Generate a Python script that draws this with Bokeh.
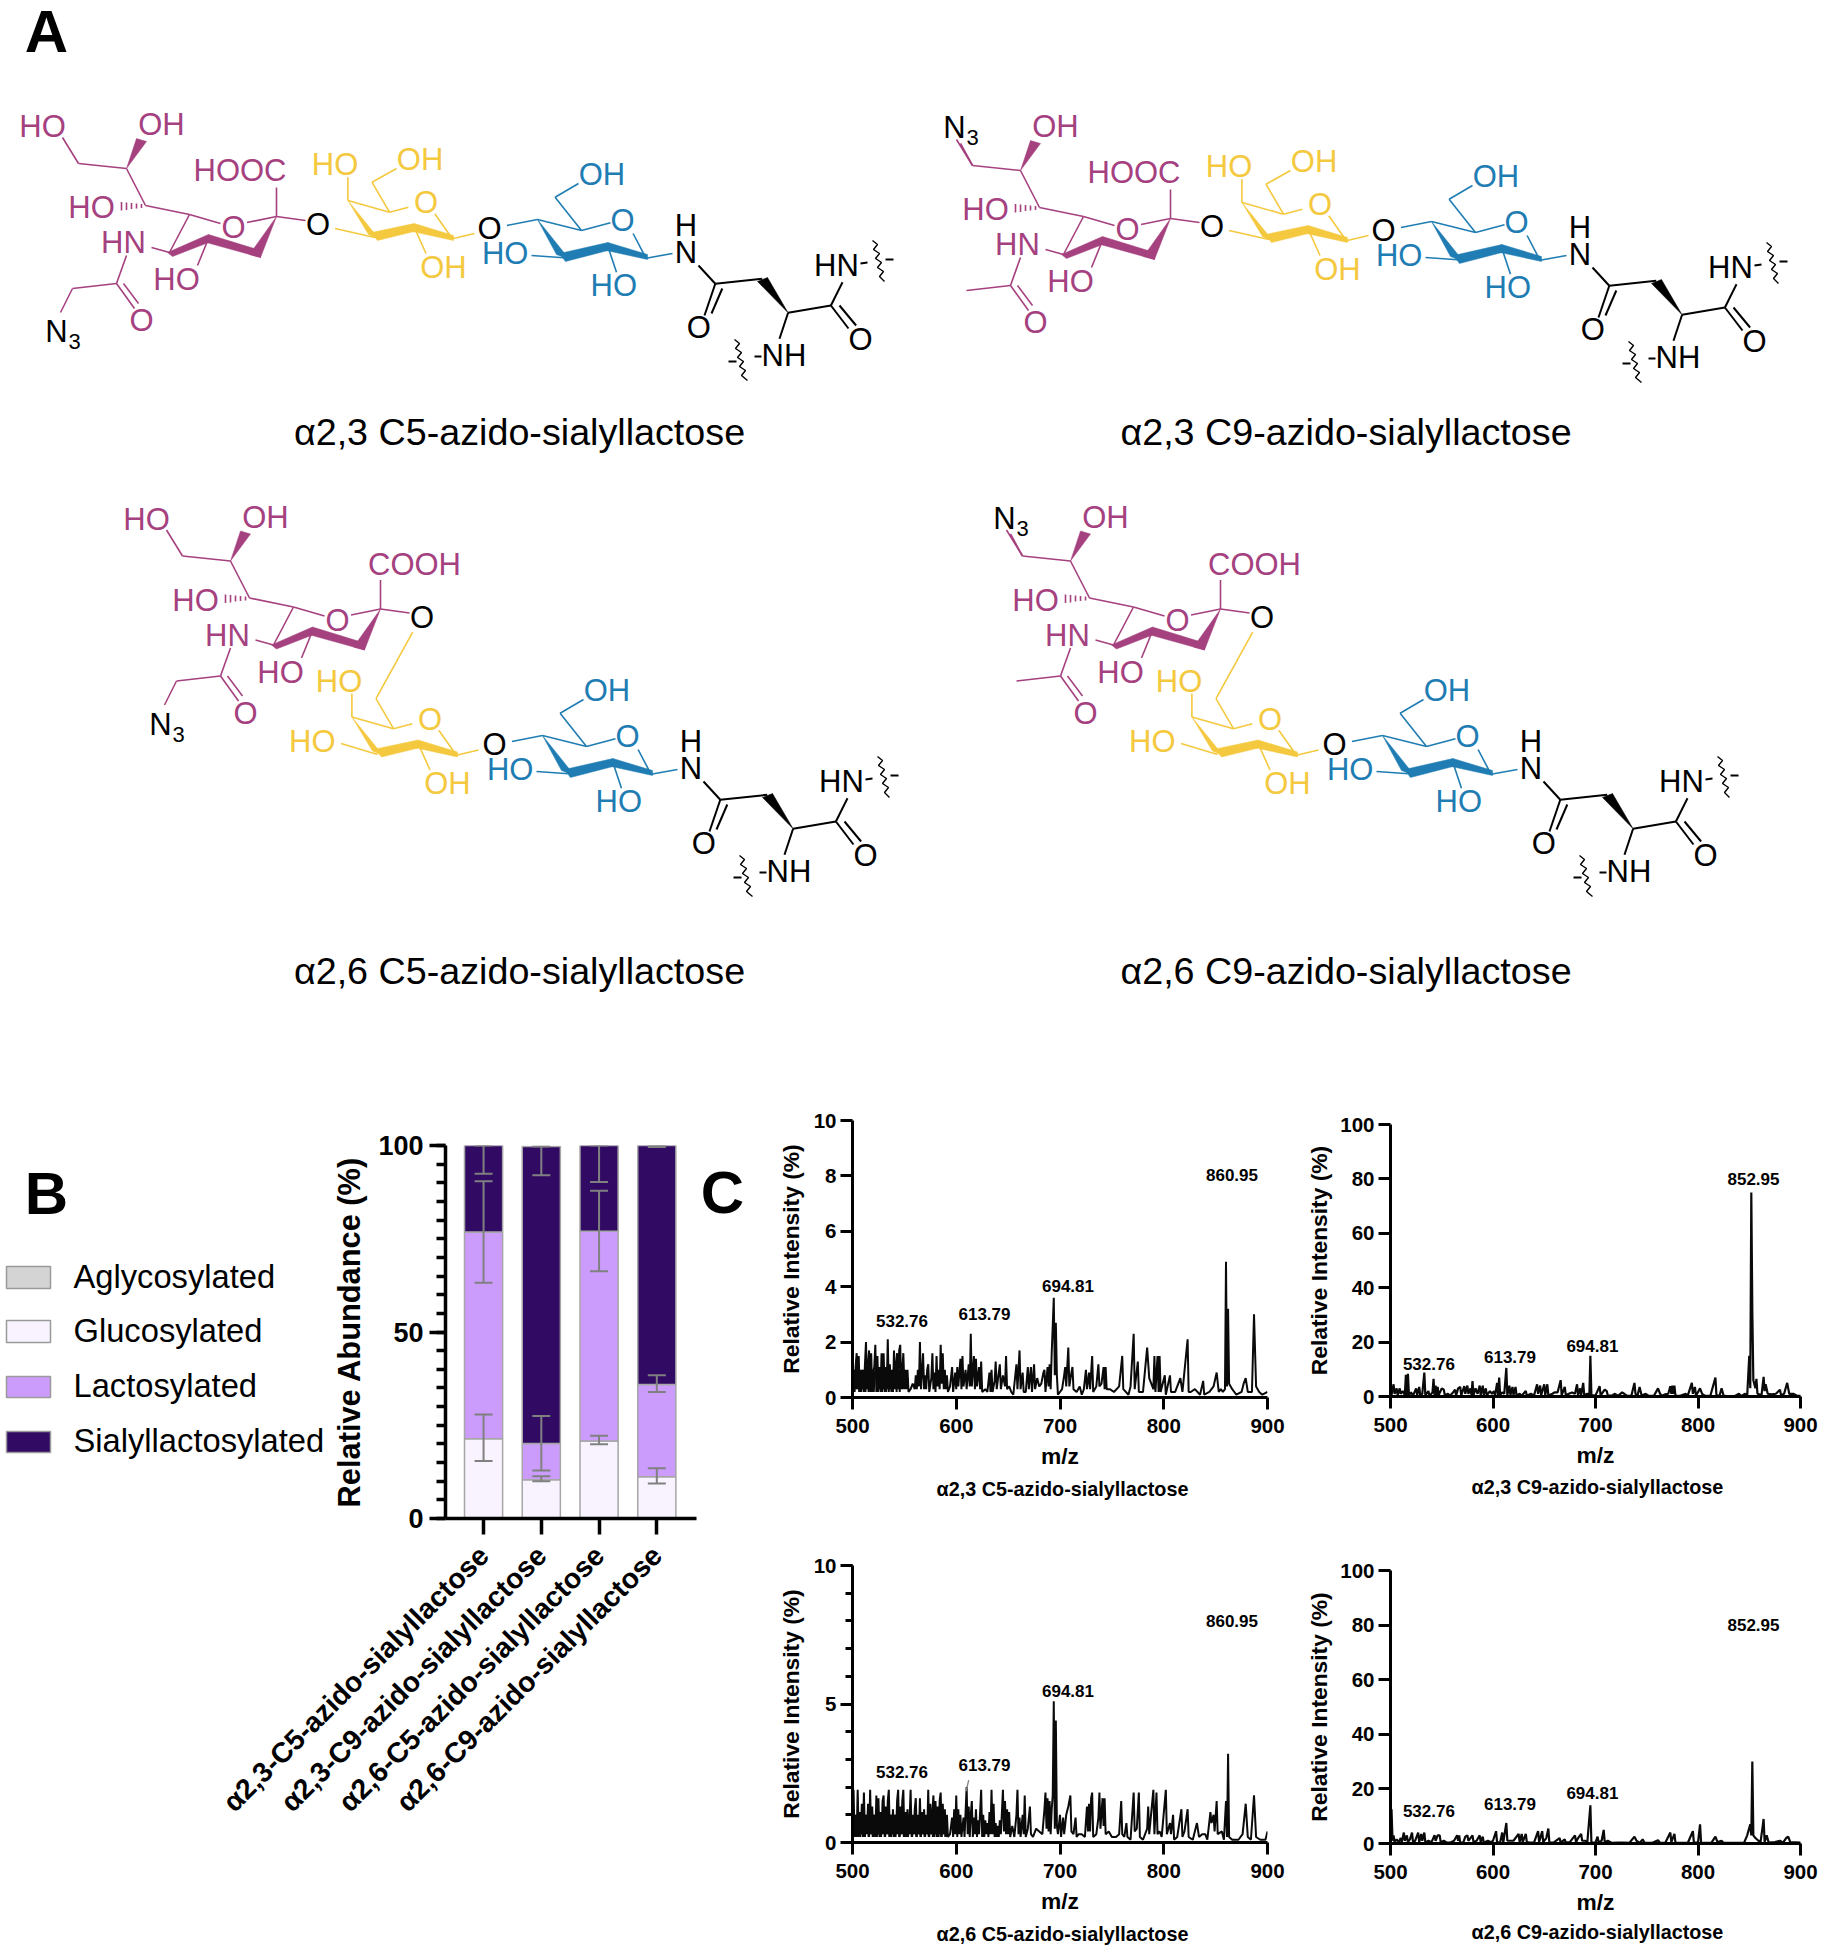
from bokeh.plotting import figure
from bokeh.layouts import column, row
from bokeh.embed import file_html
from bokeh.resources import INLINE
from bokeh.models import (Range1d, FixedTicker, Label, Whisker, TeeHead, ColumnDataSource, GridBox, Spacer)
from bokeh.core.properties import value
import math

FONT = "Liberation Sans"

# ---------- panel B data ----------
categories = ["α2,3-C5-azido-sialyllactose", "α2,3-C9-azido-sialyllactose",
              "α2,6-C5-azido-sialyllactose", "α2,6-C9-azido-sialyllactose"]
aglycosylated = [0, 0, 0, 0]
glucosylated = [21.4, 10.4, 20.8, 11.2]
lactosylated = [55.4, 9.7, 56.2, 24.7]
sialyllactosylated = [23.2, 79.6, 23.0, 64.1]
err_upper = {"gluc": [27.9, 11.3, 22.2, 13.5], "lac": [90.4, 27.5, 87.9, 38.4], "sial": [100, 99.7, 100, 100]}
err_lower = {"gluc": [15.4, 10.0, 19.9, 9.4], "lac": [63.2, 12.9, 66.3, 33.9], "sial": [92.4, 92.0, 90.2, 99.6]}
legend_names = ["Aglycosylated", "Glucosylated", "Lactosylated", "Sialyllactosylated"]
legend_colors = ["#D4D4D4", "#F8F3FE", "#CB9CFB", "#310A63"]

# ---------- panel C data (m/z, relative intensity) ----------
c1 = [(500,.2),(501,1.0),(502,.2),(503,1.1),(504,1.6),(505,.3),(506,1.5),(507,.2),(508,.9),(509,.3),(510,1.0),(511,.2),
(512,1.2),(513,2.0),(514,.3),(515,1.2),(516,1.7),(517,.2),(518,1.6),(519,.3),(520,.9),(521,1.1),(522,1.9),(523,.2),
(524,1.5),(525,.3),(526,1.1),(527,.2),(528,1.6),(529,.3),(530,1.6),(531,.2),(532,1.1),(533,.3),(534,2.1),(535,.2),
(536,1.2),(537,.3),(538,.9),(539,.2),(540,1.7),(541,.4),(542,1.2),(543,1.6),(544,.3),(545,1.7),(546,1.9),(547,.3),
(548,1.0),(549,1.6),(550,.4),(551,1.0),(552,.4),(553,1.0),(554,.2),(556,.3),(558,.5),(560,.3),(561,.8),(562,.3),
(563,1.0),(564,.4),(565,2.0),(566,.3),(567,.9),(568,1.6),(569,.3),(570,.8),(571,.3),(572,1.0),(573,1.2),(574,.2),
(576,.7),(577,1.6),(578,.3),(579,.9),(580,.2),(581,1.5),(582,.4),(583,1.0),(584,.3),(585,1.9),(586,.5),(587,1.6),
(588,.3),(589,1.0),(590,.3),(591,.8),(592,.2),(594,.4),(596,1.1),(597,.2),(599,.9),(600,.3),(601,1.1),(602,.4),
(604,1.4),(605,.3),(606,1.5),(607,.4),(609,1.0),(610,.3),(612,1.2),(613,.4),(614,2.3),(615,.4),(617,1.5),(618,.3),
(619,1.4),(620,.4),(622,1.1),(623,.3),(624,1.3),(625,.2),(628,.3),(630,.2),(632,.9),(633,.2),(634,1.0),(635,.2),
(637,.6),(638,1.3),(639,.3),(642,1.2),(643,.3),(645,.8),(647,.4),(648,1.5),(649,.3),(651,.4),(653,.2),(655,.1),
(658,1.2),(659,.3),(661,1.7),(662,.3),(664,.9),(665,.2),(667,.2),(669,1.1),(670,.3),(672,1.1),(673,.2),(675,1.2),
(676,.3),(678,.7),(680,.4),(682,.5),(684,.9),(685,1.0),(686,.2),(688,1.1),(689,.4),(690,1.2),(691,.3),(692,1.6),
(694,3.6),(695,.8),(696,2.7),(697,.8),(698,.1),(702,.3),(704,.8),(705,1.1),(706,.4),(708,1.8),(709,.4),(711,.9),
(712,1.1),(713,.3),(716,.2),(719,.4),(721,.1),(723,.3),(725,1.0),(726,.3),(728,.9),(729,.3),(731,1.5),(732,.2),
(735,.4),(737,1.2),(738,.4),(740,.5),(742,1.1),(743,.3),(744,1.1),(745,.3),(748,.3),(752,.2),(757,.4),(760,1.5),
(761,.3),(766,.1),(768,.4),(771,2.3),(772,.3),(775,1.3),(776,.2),(780,.2),(784,1.8),(786,.7),(790,.3),(791,1.5),
(792,.2),(794,1.5),(795,.2),(796,1.5),(797,.2),(801,.8),(802,.1),(806,.8),(807,.2),(811,.2),(816,.7),(818,.2),
(823,2.1),(824,.2),(826,.2),(830,.3),(835,.1),(838,.6),(839,.1),(844,.2),(848,.4),(851,.9),(853,.2),(855,.3),
(857,.2),(859,.3),(860,4.9),(861,.4),(862,3.2),(863,.5),(866,.3),(870,.1),(875,.2),(877,.5),(879,.7),(881,.2),
(885,.2),(887,3.0),(889,.4),(892,.2),(895,.1),(900,.2)]
# unresolved peaks between the traced ones, low m/z end
c1_dense = [(500.5,.9),(501.5,.2),(502.5,1.0),(503.5,.3),(504.5,.9),(505.5,1.0),(506.5,.2),(507.5,1.0),(508.5,.2),(509.5,1.0),
(510.5,.3),(511.5,.9),(512.5,.2),(513.5,1.0),(514.5,.9),(515.5,.2),(516.5,1.0),(517.5,.9),(518.5,.2),(519.5,1.0),(520.5,.2),
(521.5,.9),(522.5,1.0),(523.5,.9),(524.5,.2),(525.5,1.0),(526.5,.3),(527.5,1.0),(528.5,.2),(529.5,.9),(530.5,.3),(531.5,1.0),
(532.5,.2),(533.5,1.0),(534.5,.9),(535.5,.3),(536.5,1.0),(537.5,.2),(538.5,1.0),(539.5,.9),(540.5,.3),(541.5,1.0),(542.5,.2),
(543.5,.9),(544.5,1.0),(545.5,.2),(546.5,1.0),(547.5,.9),(548.5,.3),(549.5,1.0),(550.5,.3),(551.5,.9),(552.5,.3),(553.5,.7)]

c2 = [(500,5),(501,.5),(503,4.5),(504,1),(506,3),(507,.5),(509,3),(510,1),(512,2),(514,.5),(515,8),(516,.5),(517,8.3),
(518,.5),(520,1.5),(522,.3),(525,3),(526,.5),(528,3.5),(529,.5),(531,1),(533,8.8),(534,.4),(537,2),(538,.3),(541,1.5),
(542,6.5),(543,.5),(544,4),(545,.6),(546,3.5),(547,.5),(550,3),(552,2.5),(553,.5),(556,1),(558,.3),(561,1.5),(563,2.5),
(564,.3),(566,3),(568,3.5),(569,.4),(572,3.8),(573,1),(575,4),(576,1),(578,3),(579,.6),(580,5.7),(581,.5),(583,3),
(585,1),(587,4),(588,.5),(590,4),(591,.5),(593,3),(594,.4),(597,2),(599,1),(601,2),(602,.3),(604,5),(605,.3),(606,7),
(607,.5),(609,1.5),(611,1),(613,10.5),(614,.5),(616,4),(617,.5),(619,3.5),(620,.5),(622,3.5),(623,.3),(626,1),(628,.3),
(632,2),(633,.3),(637,1),(640,.3),(643,4.5),(644,1),(646,4),(647,.5),(650,4.5),(651,.5),(653,4.5),(654,.4),(658,1),
(660,1.5),(663,1.5),(666,6),(667,.5),(670,3.5),(671,.5),(674,1),(677,1.5),(680,1),(682,4.5),(683,.5),(685,3),(686,.5),
(688,5),(689,.5),(692,1),(694,.5),(695,15),(696,.5),(700,.3),(704,3.8),(705,.4),(709,2.5),(711,2),(712,.3),(716,.3),
(719,1),(722,.2),(726,1.5),(728,1),(731,.2),(735,.3),(738,5),(739,1),(741,.4),(743,3.5),(745,.4),(749,1),(752,.2),
(757,.3),(761,3),(763,1),(765,.3),(768,.8),(771,1),(773,3.8),(774,1),(775,4),(776,1),(777,4),(778,.3),(782,.2),(788,1),
(790,.3),(794,5),(795,1),(797,3.5),(798,.3),(802,3),(804,1),(807,.2),(812,.2),(817,7),(818,.3),(821,.3),(823,3),(825,.3),
(830,.1),(836,.2),(840,1),(842,.1),(846,1),(848,.2),(850,15),(851,3),(852,75),(853,31),(854,6),(856,3),(857,6.5),(858,1),
(862,.5),(864,7.2),(865,2),(866,4.5),(868,1),(872,.8),(876,1),(880,2.5),(881,.5),(884,1),(887,5),(889,1),(893,1),(897,.2),(900,.2)]

c3 = [(500,.3),(501,1.9),(502,.2),(503,1.0),(504,.2),(505,1.9),(506,.2),(507,1.1),(508,.3),(509,1.4),(510,.2),(511,1.8),
(512,.2),(513,1.0),(514,.4),(515,1.4),(516,.2),(517,1.9),(518,.3),(519,1.3),(520,.2),(521,1.0),(522,.2),(523,1.7),
(524,.3),(525,1.6),(526,.2),(527,1.1),(528,.3),(529,1.5),(530,1.7),(531,.2),(532,1.3),(533,.3),(534,1.5),(535,1.9),
(536,.2),(537,1.0),(538,.3),(539,1.2),(540,.2),(541,1.0),(542,.3),(543,1.5),(544,1.9),(545,.2),(546,1.3),(547,.3),
(548,1.5),(549,1.9),(550,.2),(551,1.1),(552,.2),(553,1.2),(554,.3),(555,.8),(556,1.9),(557,.2),(558,1.0),(559,.3),
(560,1.2),(561,1.6),(562,.2),(563,1.0),(564,.3),(565,1.6),(566,.2),(567,1.1),(568,.3),(569,1.2),(570,.2),(571,1.0),
(572,.3),(573,1.9),(574,.2),(575,1.4),(576,.3),(577,1.1),(578,1.7),(579,.2),(580,1.5),(581,.3),(582,1.3),(583,.2),
(584,1.5),(585,1.8),(586,.2),(587,1.4),(588,.3),(589,1.2),(590,.2),(591,1.0),(592,.2),(594,.3),(596,.9),(597,.2),
(598,1.2),(599,.3),(600,1.7),(601,.2),(602,1.2),(603,.3),(604,1.0),(605,.2),(607,.9),(608,.2),(610,2.0),(611,.3),
(612,1.3),(613,.2),(614,1.0),(615,1.5),(616,.2),(617,.9),(618,.3),(619,1.2),(620,.2),(621,.8),(622,.3),(624,1.9),
(625,.2),(626,1.0),(627,.2),(628,.8),(629,.3),(630,.7),(631,.2),(632,1.1),(633,.3),(634,1.9),(635,.3),(636,1.4),
(637,.2),(638,.7),(639,.2),(640,.6),(641,.2),(642,.8),(643,.3),(645,1.9),(646,.4),(647,1.5),(648,.3),(649,1.2),
(650,.3),(651,1.1),(652,.2),(654,.6),(656,.2),(658,1.0),(659,1.9),(660,.3),(661,.9),(662,.2),(664,1.0),(665,.3),
(666,1.7),(667,.2),(669,.5),(671,1.3),(672,.3),(674,.2),(677,.5),(680,.4),(683,.3),(685,1.2),(686,1.8),(687,.5),
(688,1.6),(689,.4),(690,1.5),(691,.3),(692,1.2),(693,1.7),(694,5.1),(695,.5),(696,4.4),(697,.6),(698,.3),(700,1.0),
(701,.2),(703,.9),(704,.3),(706,1.0),(708,1.3),(710,1.7),(711,.4),(713,.3),(715,.9),(716,.2),(718,.3),(721,.3),(724,.2),
(726,1.3),(727,.4),(728,1.4),(729,.4),(730,1.6),(731,1.8),(732,.2),(735,.3),(737,.9),(738,1.8),(739,.5),(741,1.6),
(742,.6),(743,1.6),(744,.3),(747,.4),(750,.2),(754,.2),(757,.3),(759,1.5),(760,.3),(762,.2),(764,.7),(765,.2),(768,.1),
(771,1.8),(772,.4),(774,.5),(776,1.8),(777,.2),(780,.1),(784,.5),(785,1.3),(786,.3),(790,1.9),(791,.3),(793,1.8),(794,.3),
(796,.4),(798,.2),(802,1.9),(803,.3),(806,.7),(807,.3),(809,1.0),(810,.1),(813,.2),(817,1.2),(818,.2),(820,.4),(823,1.2),
(824,.2),(828,.1),(832,.7),(834,.2),(837,.3),(840,.3),(842,.1),(845,1.1),(846,.7),(848,1.0),(849,.4),(851,1.5),(852,.3),
(856,.4),(858,.1),(860,1.5),(861,.2),(862,3.2),(863,.2),(866,.1),(872,.1),(876,.3),(879,1.4),(881,.2),(884,.1),(887,1.7),
(889,.2),(893,.1),(898,.1),(900,.4)]
c3_dense = [(500.5,1.0),(501.5,.2),(502.5,1.0),(503.5,.2),(504.5,1.0),(505.5,.3),(506.5,1.0),(507.5,.2),(508.5,1.0),(509.5,.3),
(510.5,1.0),(511.5,.2),(512.5,1.0),(513.5,.3),(514.5,1.0),(515.5,.2),(516.5,1.0),(517.5,.3),(518.5,1.0),(519.5,.2),(520.5,1.0),
(521.5,.3),(522.5,1.0),(523.5,.2),(524.5,1.0),(525.5,.3),(526.5,1.0),(527.5,.2),(528.5,1.0),(529.5,.3),(530.5,1.0),(531.5,.2),
(532.5,1.0),(533.5,.3),(534.5,1.0),(535.5,.2),(536.5,1.0),(537.5,.2),(538.5,1.0),(539.5,.3),(540.5,1.0),(541.5,.2),(542.5,1.0),
(543.5,.3),(544.5,1.0),(545.5,.2),(546.5,1.0),(547.5,.3),(548.5,1.0),(549.5,.2),(550.5,.8),(551.5,.3),(552.5,.6),(553.5,.2),
(554.5,.9),(555.5,.3),(556.5,.8),(557.5,.2),(558.5,.9),(559.5,.3),(560.5,.8),(561.5,.2),(562.5,.9),(563.5,.3),(564.5,.8),(565.5,.2),
(566.5,.9),(567.5,.3),(568.5,.8),(569.5,.2),(570.5,.9),(571.5,.3),(572.5,.8),(573.5,.2),(574.5,.9),(575.5,.3),(576.5,.9),(577.5,.2),
(578.5,1.0),(579.5,.3),(580.5,1.0),(581.5,.2),(582.5,.9),(583.5,.3),(584.5,1.0),(585.5,.2),(586.5,1.0),(587.5,.3),(588.5,.9),(589.5,.2)]

c4 = [(500,1),(501,12.5),(502,1),(503,3),(504,.5),(506,1.5),(508,.5),(510,2),(511,.5),(513,4),(514,1),(516,3),(517,.5),
(519,1.5),(521,4),(522,.5),(524,1),(527,4),(528,.5),(530,3.5),(531,1),(533,4),(534,.4),(537,1),(540,.5),(543,3),(544,1),
(546,3),(548,3),(549,.5),(552,1),(555,.3),(558,.3),(562,1),(565,3),(566,1),(567,3),(568,.3),(571,.3),(573,2.5),(575,3),
(576,1),(578,2),(580,3),(581,.5),(584,1),(587,3),(588,.5),(590,2.5),(591,.3),(595,1),(598,.5),(600,1),(603,4.5),(604,.3),
(607,.5),(609,4),(610,.3),(613,7.5),(614,1),(617,1),(620,1),(625,3.5),(626,.5),(628,3.5),(629,.5),(632,3.5),(633,.5),(636,.3),
(640,.3),(644,4.5),(645,.5),(648,4.5),(649,.5),(652,2),(654,5.5),(655,.3),(659,.3),(665,2),(666,.3),(670,1.5),(671,.3),
(675,.5),(680,3),(681,.5),(683,2),(686,3.5),(687,1),(690,1),(692,.3),(695,14),(696,.3),(700,.3),(702,2.5),(703,.5),(706,1),
(708,5),(709,.5),(712,1),(716,.2),(722,.3),(728,.3),(733,.2),(738,2.5),(740,1),(743,.2),(746,1.5),(748,.2),(755,.2),(761,1.2),
(763,.2),(768,.2),(773,4),(774,.5),(777,3.5),(778,.3),(785,.2),(790,.2),(795,4.5),(796,.3),(800,.3),(802,7),(803,.3),(808,.2),
(813,.2),(817,2.5),(819,.5),(823,1),(825,.2),(835,.2),(845,.3),(848,3),(851,7),(852,3),(853,30),(854,3),(856,2),(859,1),
(861,.5),(863,6),(864,9),(865,.5),(867,3),(869,.3),(875,.5),(880,1),(883,.3),(886,2),(888,2.5),(890,.5),(900,.3)]

peak_labels_c5 = ["532.76", "613.79", "694.81", "860.95"]
peak_labels_c9 = ["532.76", "613.79", "694.81", "852.95"]
spectrum_captions = ["α2,3 C5-azido-sialyllactose", "α2,3 C9-azido-sialyllactose",
                     "α2,6 C5-azido-sialyllactose", "α2,6 C9-azido-sialyllactose"]

# ---------- panel A drawing (pixel space of the page) ----------
PURPLE, YELLOW, BLUE, BLACK = "#A5417F", "#F4C93F", "#1F7DB3", "#000000"
CHEM = 31

sia_bonds = [((62,137),(78,163)),((78,163),(126,168)),((126,168),(145,205)),((145,205),(189,214)),((189,214),(220,223)),
             ((246.5,222),(276,216)),((276,216),(305,220)),((276,216),(276,187)),((189,214),(169,252)),((169,252),(151,247)),
             ((208,238),(197,265)),((126,255),(116,283)),((116,283),(72,288)),((116,283),(134,308)),((123,283),(138,303)),
             ((141,203.5),(141,207.5)),((136,203),(136,208)),((131,202.5),(131,208.5)),((126,202),(126,209.5)),((121,201.5),(121,210))]
sia_wedges = [[(126,168),(136,138),(146,141)],[(167,252),(208,234),(208,242),(172,256)],
              [(208,234),(260,250),(260,257),(206,242)],[(249,254),(260,257),(276,216)]]
sia_labels = [("OH",161,124),("HO",91,207),("O",233,227),("HN",123,242),("HO",176,279),("O",141,320)]

gal_bonds = [((347.4,200),(389,211.7)),((389,211.7),(407.9,206.7)),((434.3,213.3),(451.9,238.3)),((347.4,200),(347.4,176.7)),
             ((389,211.7),(371.5,181.7)),((413.7,226.7),(425.5,253)),((451.9,238.3),(474,233))]
gal_wedges = [[(347.4,200),(368,234),(379,239)],[(371,232),(413.7,223),(413.7,231),(377,240)],[(413.7,223),(453,235),(453,240),(412,231)]]
gal_labels = [("HO",334.5,164),("O",425.5,202.3),("OH",443,266.7)]

glc_bonds = [((506.5,225),(537,219)),((537,219),(581,230)),((581,230),(610,222.3)),((632.6,233),(645.5,257.7)),((581,230),(554.6,196.7)),
             ((554.6,196.7),(578,183)),((563.4,257.3),(531,255)),((607.4,246),(616,271.7)),((645.5,257.7),(672,253))]
glc_wedges = [[(537,219),(556,254),(569,259)],[(559,253),(607.4,242),(607.4,250),(565,261)],[(607.4,242),(647,254),(647,259),(606,250)]]
glc_labels = [("O",622,220),("OH",601.5,174),("HO",504.7,253),("HO",613.3,285)]

asn_bonds = [((698,265),(714.8,283.3)),((714.8,283.3),(761.7,278.3)),((714.8,283.3),(704,315)),((721.8,288),(711,313)),
             ((787.6,312.3),(830.4,305)),((830.4,305),(842,281.7)),((830.4,305),(848,328)),((839,305),(855.6,325)),((787.6,312.3),(779,338.3)),
             ((860,263),(867,262)),((885,259),(893,259)),((728,361),(736,361)),((754,356),(761,356))]
asn_wedges = [[(757,281),(767,277),(787.6,312.3)]]
asn_labels = [("H",685.4,225),("N",685.4,252.3),("O",698.4,327.3),("HN",836,265),("O",860,339.3),("NH",783.4,355),("O",489,228.3)]
wavy_a = [(872,240),(877,244),(873,249),(879,253),(875,258),(881,262),(877,267),(883,271),(879,276),(884,281)]
wavy_b = [(734,339),(739,343),(735,348),(741,352),(737,357),(743,361),(739,366),(745,370),(741,375),(747,380)]

structure_titles = ["α2,3 C5-azido-sialyllactose", "α2,3 C9-azido-sialyllactose",
                    "α2,6 C5-azido-sialyllactose", "α2,6 C9-azido-sialyllactose"]


def txt(p, s, x, y, size, color="#000000", bold=False, align="center"):
    p.text([x], [y], text=[s], text_font=value(FONT), text_font_size=f"{size}px", text_color=color,
           text_align=align, text_baseline="middle", text_font_style="bold" if bold else "normal")


def unit(p, bonds, wedges, labels, color, dx, dy, width=1.6):
    p.multi_line([[a[0]+dx, b[0]+dx] for a, b in bonds], [[a[1]+dy, b[1]+dy] for a, b in bonds],
                 line_color=color, line_width=width)
    p.patches([[q[0]+dx for q in w] for w in wedges], [[q[1]+dy for q in w] for w in wedges],
              fill_color=color, line_color=color, line_width=0.5)
    for s, x, y in labels:
        txt(p, s, x+dx, y+dy, CHEM, color)


def structure(p, ox, oy, c9, a26):
    if a26:
        sx, sy, yx, yy, bx, by = ox+104, oy+392.5, ox+4, oy+516.5, ox+5, oy+516
    else:
        sx, sy, yx, yy, bx, by = ox, oy, ox, oy, ox, oy
    extra = [((78,163),(66,141))] if c9 else [((72,288),(60,312))]
    unit(p, sia_bonds+extra, sia_wedges, sia_labels, PURPLE, sx, sy)
    if not c9:
        txt(p, "HO", 42+sx, 126+sy, CHEM, PURPLE)
        txt(p, "N", 56+sx, 331+sy, CHEM)
        txt(p, "3", 74+sx, 341+sy, 22)
    else:
        txt(p, "N", 60+sx, 125+sy, CHEM)
        txt(p, "3", 78+sx, 135+sy, 22)
    if a26:
        txt(p, "COOH", 310+sx, 171+sy, CHEM, PURPLE)
    else:
        txt(p, "HOOC", 239.5+sx, 170+sy, CHEM, PURPLE)
    txt(p, "O", 317.5+sx, 224+sy, CHEM)
    if a26:
        gb = gal_bonds+[((373,237.5),(336.6,226.5)),((371.5,181.7),(408.2,115.2))]
        gl = gal_labels+[("HO",307.8,224.2)]
    else:
        gb = gal_bonds+[((334.5,228),(374.4,237)),((371.5,181.7),(396,168))]
        gl = gal_labels+[("OH",419.6,159.3)]
    unit(p, gb, gal_wedges, gl, YELLOW, yx, yy)
    unit(p, glc_bonds, glc_wedges, glc_labels, BLUE, bx, by)
    unit(p, asn_bonds, asn_wedges, asn_labels, BLACK, bx, by, width=2)
    for w in (wavy_a, wavy_b):
        p.line([q[0]+bx for q in w], [q[1]+by for q in w], line_color=BLACK, line_width=1.4)


# ---------- full-page drawing layer: panel A, panel letters, legend, captions ----------
PAGE_W, PAGE_H = 1823, 1950
fa = figure(width=PAGE_W, height=PAGE_H, output_backend="svg", toolbar_location=None, min_border=0,
            x_range=Range1d(0, PAGE_W), y_range=Range1d(PAGE_H, 0), x_axis_location=None, y_axis_location=None)
fa.grid.visible = False
fa.outline_line_color = None
txt(fa, "A", 46, 31, 60, bold=True)
txt(fa, "B", 46, 1193, 60, bold=True)
txt(fa, "C", 722, 1192, 60, bold=True)
structure(fa, 0, 0, False, False)
structure(fa, 894, 2, True, False)
structure(fa, 0, 0, False, True)
structure(fa, 840, 0, True, True)
for s, x, y in zip(structure_titles, [519, 1345.5, 519, 1345.5], [431.5, 431.5, 970, 970]):
    txt(fa, s, x, y, 37.7)
for s, c, t, b, ym in zip(legend_names, legend_colors, [1266, 1320, 1376, 1431], [1288, 1342, 1397, 1452], [1275.5, 1330, 1385, 1440]):
    fa.quad(left=[6], right=[50], top=[t], bottom=[b], fill_color=c, line_color="#9A9A9A", line_width=1.5)
    txt(fa, s, 73, ym, 32.7, align="left")
for s, x, y in zip(spectrum_captions, [1062, 1596.9, 1062, 1596.9], [1488, 1486.7, 1933.3, 1931.7]):
    txt(fa, s, x, y, 19.8, bold=True)


def style_axes(p, tick, lw=3, tick_size="20px", label_size="23px", label_style="bold"):
    for ax in (p.xaxis[0], p.yaxis[0]):
        ax.axis_line_width = lw
        ax.major_tick_line_width = lw
        ax.minor_tick_line_width = lw
        ax.axis_line_color = "#000000"
        ax.major_tick_line_color = "#000000"
        ax.minor_tick_line_color = "#000000"
        ax.major_tick_out = tick
        ax.major_tick_in = 0
        ax.minor_tick_out = tick // 2 + 1
        ax.minor_tick_in = 0
        ax.major_label_text_font = FONT
        ax.major_label_text_font_style = "bold"
        ax.major_label_text_font_size = tick_size
        ax.major_label_text_color = "#000000"
        ax.axis_label_text_font = FONT
        ax.axis_label_text_font_style = label_style
        ax.axis_label_text_font_size = label_size
        ax.axis_label_text_color = "#000000"
    p.grid.visible = False
    p.outline_line_color = None
    p.border_fill_color = None
    p.background_fill_color = None


def page_label(p, box, s, px, py, size):
    L, R, T, B, x0, x1, y0, y1 = box
    x = x0 + (px-L)/(R-L)*(x1-x0)
    y = y0 + (B-py)/(B-T)*(y1-y0)
    p.add_layout(Label(x=x, y=y, text=s, text_font=FONT, text_font_size=f"{size}px",
                       text_font_style="bold", text_color="#000000",
                       text_align="center", text_baseline="middle"))


# ---------- panel B ----------
x0b, x1b = 0.341, 4.687
fb = figure(width=698, height=852, output_backend="svg", toolbar_location=None,
            x_range=Range1d(x0b, x1b), y_range=Range1d(0, 100),
            min_border_left=445, min_border_right=2, min_border_top=47, min_border_bottom=432)
style_axes(fb, 16, lw=3.5, tick_size="27px", label_size="30.8px")
src = ColumnDataSource(dict(x=[1, 2, 3, 4], Aglycosylated=aglycosylated, Glucosylated=glucosylated,
                            Lactosylated=lactosylated, Sialyllactosylated=sialyllactosylated))
fb.vbar_stack(legend_names, x="x", width=0.66, source=src, fill_color=legend_colors,
              line_color="#A6A6A6", line_width=1.5)
for k in ("gluc", "lac", "sial"):
    s = ColumnDataSource(dict(x=[1, 2, 3, 4], up=err_upper[k], lo=err_lower[k]))
    fb.add_layout(Whisker(source=s, base="x", upper="up", lower="lo", line_color="#808080", line_width=2,
                          upper_head=TeeHead(size=18, line_color="#808080", line_width=2),
                          lower_head=TeeHead(size=18, line_color="#808080", line_width=2), level="overlay"))
fb.xaxis.ticker = FixedTicker(ticks=[1, 2, 3, 4])
fb.xaxis.major_label_overrides = {i+1: c for i, c in enumerate(categories)}
fb.xaxis.major_label_orientation = math.pi/4
fb.xaxis.major_label_text_font_size = "28.3px"
fb.xaxis.major_label_standoff = 16
fb.yaxis.ticker = FixedTicker(ticks=[0, 50, 100], minor_ticks=list(range(0, 101, 5)))
fb.yaxis.major_label_standoff = 6
fb.yaxis.axis_label = "Relative Abundance (%)"
fb.yaxis.axis_label_standoff = 8


# ---------- panel C ----------
def spectrum(series, dense, ymax, yticks, minor, w, h, left, right, top, bottom, box_page, labels, label_pos, lw, ylab_standoff):
    L, R, T, B = box_page
    p = figure(width=w, height=h, output_backend="svg", toolbar_location=None,
               x_range=Range1d(500, 900), y_range=Range1d(0, ymax),
               min_border_left=left, min_border_right=right, min_border_top=top, min_border_bottom=bottom)
    style_axes(p, 12, lw=3, tick_size="20.5px", label_size="22.8px")
    if dense:
        p.line([a for a, _ in dense], [b for _, b in dense], line_color="#0A0A0A", line_width=lw)
    p.line([a for a, _ in series], [b for _, b in series], line_color="#0A0A0A", line_width=lw)
    p.xaxis.ticker = FixedTicker(ticks=[500, 600, 700, 800, 900])
    p.xaxis.axis_label = "m/z"
    p.xaxis.major_label_standoff = 9
    p.xaxis.axis_label_standoff = 7
    p.yaxis.ticker = FixedTicker(ticks=yticks, minor_ticks=minor)
    p.yaxis.axis_label = "Relative Intensity (%)"
    p.yaxis.major_label_standoff = 4
    p.yaxis.axis_label_standoff = ylab_standoff
    box = (L, R, T, B, 500, 900, 0, ymax)
    for s, (px, py) in zip(labels, label_pos):
        page_label(p, box, s, px, py, 17)
    return p


f1 = spectrum(c1, c1_dense, 10, [0, 2, 4, 6, 8, 10], [], 602, 422, 154, 33, 22, 123, (852, 1267, 1120, 1397),
              peak_labels_c5, [(901.5, 1320), (984, 1313), (1067.5, 1285.7), (1231.5, 1174)], 2, 7)
f2 = spectrum(c2, None, 100, [0, 20, 40, 60, 80, 100], [], 519, 422, 90, 19, 26, 124, (1390, 1800, 1124, 1396),
              peak_labels_c9, [(1428.4, 1363), (1509.5, 1356.7), (1591.9, 1345.7), (1753, 1178.3)], 2.2, 5)
f3 = spectrum(c3, c3_dense, 10, [0, 5, 10], list(range(0, 11)), 602, 430, 154, 33, 45, 108, (852, 1267, 1565, 1842),
              peak_labels_c5, [(901.5, 1771), (984, 1764.3), (1067.5, 1690.7), (1231.5, 1620)], 2, 7)
f3.segment([612], [2.25], [609.5], [1.85], line_color="#808080", line_width=1.3)
f4 = spectrum(c4, None, 100, [0, 20, 40, 60, 80, 100], [], 519, 430, 90, 19, 50, 107, (1390, 1800, 1570, 1843),
              peak_labels_c9, [(1428.4, 1810), (1509.5, 1803.3), (1591.9, 1792.3), (1753, 1624.3)], 2.2, 5)


def place(f, x, y):
    inner = row(Spacer(width=x, height=1), f, spacing=0) if x else f
    return column(Spacer(width=1, height=y), inner, spacing=0)


page = GridBox(children=[(fa, 0, 0), (place(fb, 0, 1098), 0, 0), (place(f1, 698, 1098), 0, 0), (place(f2, 1300, 1098), 0, 0),
                         (place(f3, 698, 1520), 0, 0), (place(f4, 1300, 1520), 0, 0)])
open("out.html", "w").write(file_html(page, INLINE))
